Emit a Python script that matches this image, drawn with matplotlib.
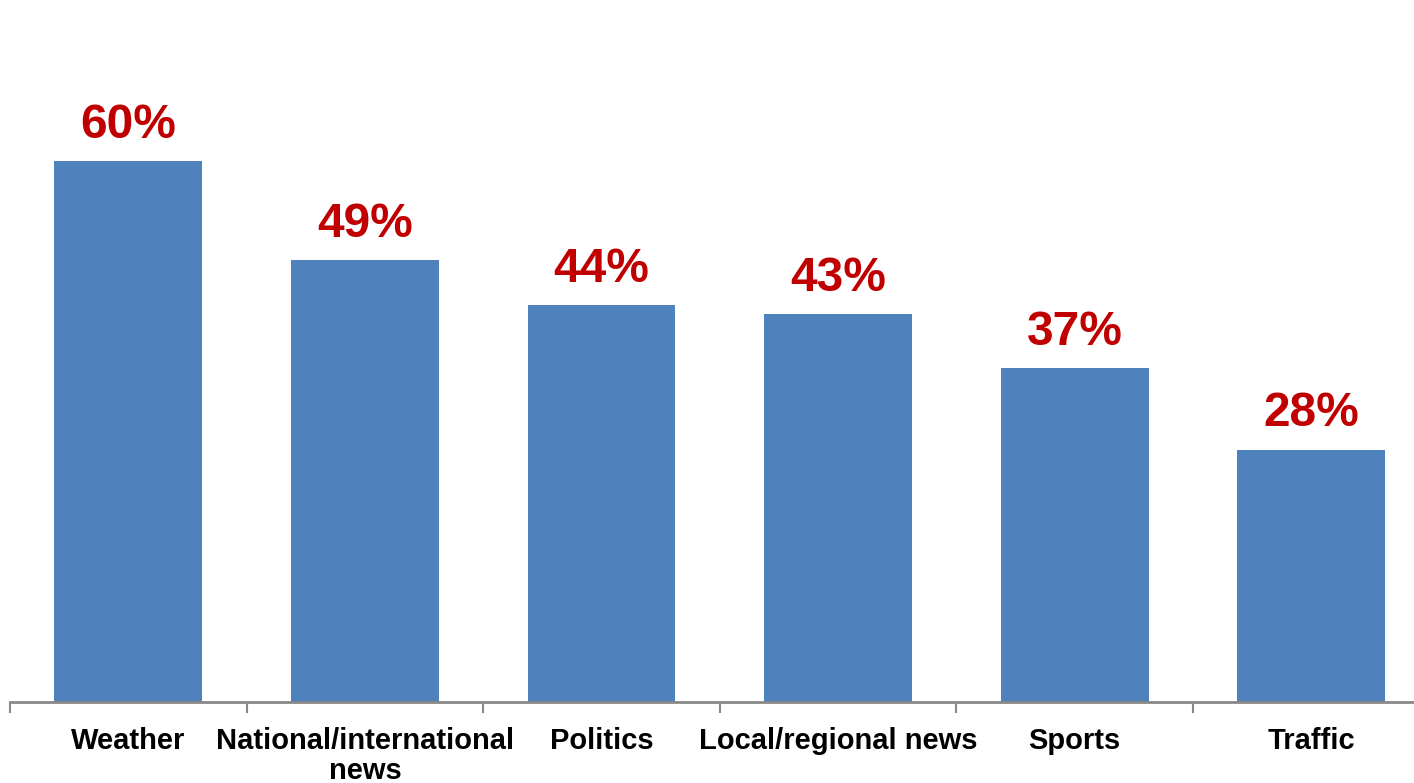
import matplotlib.pyplot as plt
import numpy as np

plt.rcParams['font.family'] = ['Liberation Sans', 'DejaVu Sans']

categories = ["Weather", "National/international\nnews", "Politics",
              "Local/regional news", "Sports", "Traffic"]
shares = [60, 49, 44, 43, 37, 28]

fig = plt.figure(figsize=(14.14, 7.83), dpi=100)
ax = fig.add_axes([10 / 1414, 81 / 783, 1404 / 1414, 631 / 783])

x = np.arange(len(categories))
bars = ax.bar(x, shares, width=0.625, color='#4F81BD')

for rect, val in zip(bars, shares):
    ax.annotate(f"{val}%", (rect.get_x() + rect.get_width() / 2, val),
                xytext=(0, 17), textcoords='offset points',
                ha='center', va='baseline', color='#C00000',
                fontsize=34.5, fontweight='bold')

# labels sit under each bar, tick marks fall between categories
ax.set_xticks(x)
ax.set_xticklabels(categories, fontsize=21, fontweight='bold', linespacing=1.08)
ax.tick_params(axis='x', which='major', length=0, pad=18)
ax.set_xticks(np.arange(-0.5, len(categories), 1), minor=True)
ax.tick_params(axis='x', which='minor', length=8, width=1.5, color='#898989')

ax.set_xlim(-0.5, 5.434)
ax.set_ylim(0, 70)
ax.set_yticks([])

for side in ['top', 'right', 'left']:
    ax.spines[side].set_visible(False)
ax.spines['bottom'].set_color('#898989')
ax.spines['bottom'].set_linewidth(2)

plt.savefig("out.png", format='png', dpi=100)
plt.close()
